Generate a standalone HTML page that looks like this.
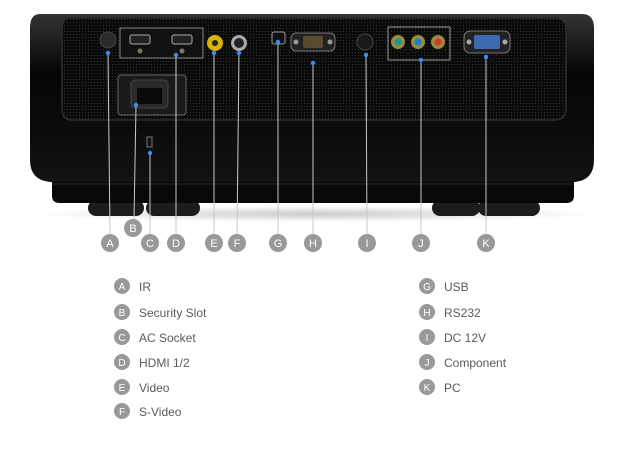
<!DOCTYPE html>
<html><head><meta charset="utf-8"><style>
html,body{margin:0;padding:0;background:#fff;}
body{width:625px;height:445px;overflow:hidden;font-family:"Liberation Sans","DejaVu Sans",sans-serif;}
</style></head><body>
<svg width="625" height="445" viewBox="0 0 625 445" xmlns="http://www.w3.org/2000/svg">
<defs>
<pattern id="dots" width="3" height="3" patternUnits="userSpaceOnUse"><rect width="3" height="3" fill="#0a0a0a"/><rect x="1" y="1" width="1" height="1" fill="#303030"/></pattern>
<linearGradient id="shine" x1="0" y1="0" x2="0" y2="1"><stop offset="0" stop-color="#333"/><stop offset="0.35" stop-color="#050505"/><stop offset="1" stop-color="#121212"/></linearGradient>
<radialGradient id="floor" cx="0.5" cy="0.5" r="0.5"><stop offset="0" stop-color="#ccc"/><stop offset="1" stop-color="#fff"/></radialGradient>
</defs>
<ellipse cx="315" cy="214" rx="280" ry="8" fill="url(#floor)"/>
<!-- feet -->
<rect x="88" y="200" width="56" height="16" rx="8" fill="#1c1c1c"/>
<rect x="146" y="200" width="54" height="16" rx="8" fill="#1c1c1c"/>
<rect x="432" y="200" width="48" height="16" rx="8" fill="#1c1c1c"/>
<rect x="478" y="200" width="62" height="16" rx="8" fill="#1c1c1c"/>
<!-- lower body -->
<path d="M52 150 L52 196 Q52 203 60 203 L566 203 Q574 203 574 196 L574 150 Z" fill="#080808"/>
<!-- main body -->
<path d="M40 14 Q30 14 30 28 L30 160 Q30 180 50 182 L575 182 Q594 180 594 160 L594 28 Q594 14 582 14 Z" fill="url(#shine)"/>
<line x1="52" y1="184" x2="574" y2="184" stroke="#2a2a2a"/>
<!-- grille panel -->
<path d="M70 18 L556 18 Q566 18 566 30 L566 108 Q566 120 554 120 L72 120 Q62 120 62 108 L62 30 Q62 18 70 18 Z" fill="url(#dots)" stroke="#2e2e2e" stroke-width="1.5"/>
<circle cx="108" cy="40" r="8" fill="#2a2a2a" stroke="#444"/>
<rect x="120" y="28" width="83" height="30" fill="#111" stroke="#888" stroke-width="1"/>
<rect x="130" y="35" width="20" height="9" rx="2" fill="#222" stroke="#aaa"/>
<rect x="172" y="35" width="20" height="9" rx="2" fill="#222" stroke="#aaa"/>
<circle cx="140" cy="51" r="2.5" fill="#776"/><circle cx="182" cy="51" r="2.5" fill="#776"/>
<circle cx="215" cy="43" r="8" fill="#d9b400"/><circle cx="215" cy="43" r="3" fill="#222"/>
<circle cx="239" cy="43" r="8" fill="#aaa"/><circle cx="239" cy="43" r="5" fill="#222"/>
<rect x="272" y="32" width="13" height="12" rx="2" fill="#111" stroke="#999"/>
<rect x="291" y="33" width="44" height="18" rx="5" fill="#222" stroke="#777"/>
<rect x="303" y="36" width="20" height="12" rx="2" fill="#5a4a30"/>
<circle cx="296" cy="42" r="2.5" fill="#999"/><circle cx="330" cy="42" r="2.5" fill="#999"/>
<circle cx="365" cy="42" r="8" fill="#1a1a1a" stroke="#444"/>
<rect x="388" y="27" width="62" height="33" fill="none" stroke="#999"/>
<circle cx="398" cy="42" r="7" fill="#9a8a40"/><circle cx="398" cy="42" r="3.5" fill="#1a9a8a"/>
<circle cx="418" cy="42" r="7" fill="#9a8a40"/><circle cx="418" cy="42" r="3.5" fill="#1a7ad0"/>
<circle cx="438" cy="42" r="7" fill="#9a8a40"/><circle cx="438" cy="42" r="3.5" fill="#d03a2a"/>
<rect x="464" y="31" width="46" height="22" rx="6" fill="#222" stroke="#777"/>
<rect x="474" y="35" width="26" height="14" rx="2" fill="#3a6ab0"/>
<circle cx="469" cy="42" r="2.5" fill="#aaa"/><circle cx="505" cy="42" r="2.5" fill="#aaa"/>
<rect x="118" y="75" width="68" height="40" rx="3" fill="#1a1a1a" stroke="#666"/>
<rect x="131" y="80" width="37" height="28" rx="4" fill="#2a2a2a" stroke="#444"/>
<rect x="137" y="88" width="25" height="16" fill="#080808"/>
<rect x="147" y="137" width="5" height="10" fill="#111" stroke="#777"/>
<g stroke="#c8c8c8" stroke-width="1">
<line x1="108" y1="53" x2="110" y2="235"/>
<line x1="136" y1="105" x2="134" y2="220"/>
<line x1="150" y1="153" x2="150" y2="235"/>
<line x1="176" y1="55" x2="176" y2="235"/>
<line x1="214" y1="53" x2="214" y2="235"/>
<line x1="239" y1="53" x2="237" y2="235"/>
<line x1="278" y1="42" x2="278" y2="235"/>
<line x1="313" y1="63" x2="313" y2="235"/>
<line x1="366" y1="55" x2="367" y2="235"/>
<line x1="421" y1="60" x2="421" y2="235"/>
<line x1="486" y1="57" x2="486" y2="235"/>
</g>
<g fill="#3a8ef0">
<circle cx="108" cy="53" r="2.2"/><circle cx="136" cy="105" r="2.2"/><circle cx="150" cy="153" r="2.2"/>
<circle cx="176" cy="55" r="2.2"/><circle cx="214" cy="53" r="2.2"/><circle cx="239" cy="53" r="2.2"/>
<circle cx="278" cy="42" r="2.2"/><circle cx="313" cy="63" r="2.2"/><circle cx="366" cy="55" r="2.2"/>
<circle cx="421" cy="60" r="2.2"/><circle cx="486" cy="57" r="2.2"/>
</g>
<g font-size="11" fill="#fff" text-anchor="middle" font-family="Liberation Sans, sans-serif">
<g fill="#999">
<circle cx="110" cy="243" r="9"/><circle cx="133" cy="228" r="9"/><circle cx="150" cy="243" r="9"/>
<circle cx="176" cy="243" r="9"/><circle cx="214" cy="243" r="9"/><circle cx="237" cy="243" r="9"/>
<circle cx="278" cy="243" r="9"/><circle cx="313" cy="243" r="9"/><circle cx="367" cy="243" r="9"/>
<circle cx="421" cy="243" r="9"/><circle cx="486" cy="243" r="9"/>
</g>
<text x="110" y="247">A</text><text x="133" y="232">B</text><text x="150" y="247">C</text>
<text x="176" y="247">D</text><text x="214" y="247">E</text><text x="237" y="247">F</text>
<text x="278" y="247">G</text><text x="313" y="247">H</text><text x="367" y="247">I</text>
<text x="421" y="247">J</text><text x="486" y="247">K</text>
</g>
<g font-family="Liberation Sans, sans-serif">
<g fill="#999">
<circle cx="122" cy="286" r="8"/><circle cx="122" cy="312" r="8"/><circle cx="122" cy="337" r="8"/>
<circle cx="122" cy="362" r="8"/><circle cx="122" cy="387" r="8"/><circle cx="122" cy="411" r="8"/>
<circle cx="427" cy="286" r="8"/><circle cx="427" cy="312" r="8"/><circle cx="427" cy="337" r="8"/>
<circle cx="427" cy="362" r="8"/><circle cx="427" cy="387" r="8"/>
</g>
<g fill="#fff" font-size="10" text-anchor="middle">
<text x="122" y="290">A</text><text x="122" y="316">B</text><text x="122" y="341">C</text>
<text x="122" y="366">D</text><text x="122" y="391">E</text><text x="122" y="415">F</text>
<text x="427" y="290">G</text><text x="427" y="316">H</text><text x="427" y="341">I</text>
<text x="427" y="366">J</text><text x="427" y="391">K</text>
</g>
<g fill="#5a5a5a" font-size="12">
<text x="139" y="291">IR</text><text x="139" y="317">Security Slot</text><text x="139" y="342">AC Socket</text>
<text x="139" y="367">HDMI 1/2</text><text x="139" y="392">Video</text><text x="139" y="416">S-Video</text>
<text x="444" y="291">USB</text><text x="444" y="317">RS232</text><text x="444" y="342">DC 12V</text>
<text x="444" y="367">Component</text><text x="444" y="392">PC</text>
</g>
</g>
</svg>
</body></html>
